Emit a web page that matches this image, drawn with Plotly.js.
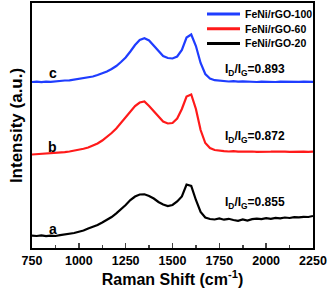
<!DOCTYPE html>
<html>
<head>
<meta charset="utf-8">
<script src="https://cdn.plot.ly/plotly-3.0.1.min.js"></script>
<style>html,body{margin:0;padding:0;background:#fff;}#chart{width:331px;height:294px;}</style>
</head>
<body>
<div id="chart"></div>
<script>
const ramanShift = [750,775,800,825,850,875,900,925,950,975,1000,1025,1050,1075,1100,1125,1150,1175,1200,1225,1250,1275,1300,1325,1350,1375,1400,1425,1450,1475,1500,1525,1550,1575,1600,1625,1650,1675,1700,1725,1750,1775,1800,1825,1850,1875,1900,1925,1950,1975,2000,2025,2050,2075,2100,2125,2150,2175,2200,2225,2250];
const feNi100 = [166.0,166.3,165.8,166.4,166.2,166.8,166.9,167.5,167.7,168.4,169.0,169.6,170.8,171.5,173.0,174.6,176.5,179.0,182.0,186.0,190.5,196.5,203.0,208.0,209.7,207.5,202.5,196.5,192.0,190.0,189.5,191.5,198.0,210.5,213.5,202.0,185.0,174.0,169.5,167.8,167.2,166.8,166.5,166.9,166.3,166.6,166.2,166.5,166.0,166.4,166.1,166.5,166.0,166.3,166.1,166.4,166.0,166.2,166.3,166.0,166.2];
const feNi60 = [93.5,93.8,94.0,94.2,94.6,95.0,95.3,95.9,96.5,97.2,98.0,99.2,100.5,102.3,104.5,107.5,111.0,115.0,119.5,125.0,131.0,137.0,142.0,145.5,146.5,142.0,136.5,131.0,126.5,124.5,125.0,129.5,139.0,151.5,153.5,139.0,118.0,105.0,100.0,98.0,97.2,96.8,96.5,96.8,96.3,96.6,96.2,96.5,96.1,96.4,96.0,96.3,96.5,96.1,96.4,96.2,96.5,96.1,96.4,96.2,96.4];
const feNi20 = [12.3,12.0,12.6,11.8,12.4,12.0,12.9,13.5,14.2,15.0,16.3,17.5,19.5,21.0,23.0,25.5,28.0,31.0,34.7,38.5,43.0,48.0,51.5,53.5,53.7,52.0,49.5,46.0,43.5,42.0,43.0,46.5,51.5,63.5,62.0,48.0,36.0,30.5,29.0,28.5,29.5,28.3,29.2,28.0,27.2,28.6,27.5,28.8,29.4,28.9,29.8,29.2,30.2,29.6,30.5,30.0,30.8,30.6,31.2,31.0,32.0];
const seriesNames = ['FeNi/rGO-100','FeNi/rGO-60','FeNi/rGO-20'];
const seriesColors = ['#1f3dff','#ff1a1a','#000000'];
const curveLetters = ['c','b','a'];
const ratios = ['0.893','0.872','0.855'];
const xTicks = [750,1000,1250,1500,1750,2000,2250];

const ys = [feNi100, feNi60, feNi20];
const traces = ys.map((y,i)=>({
  x: ramanShift, y: y, type:'scatter', mode:'lines', name: seriesNames[i],
  line:{color: seriesColors[i], width: 2.2}
}));
const F = {family:'Arial, Liberation Sans, sans-serif', color:'#000', weight:'bold'};
const letterY = [175,101,19];
const ratioY = [178,111,45];
const annotations = [];
const shapes = [];
for (let i=0;i<3;i++){
  annotations.push({x:860, y:letterY[i], xref:'x', yref:'y', text:curveLetters[i], showarrow:false, font:Object.assign({size:14},F)});
  annotations.push({x:1770, y:ratioY[i], xref:'x', yref:'y', xanchor:'left', text:'I<sub>D</sub>/I<sub>G</sub>='+ratios[i], showarrow:false, font:Object.assign({size:12},F)});
  // custom legend entries (paper coordinates)
  const ly = 1 - (11 + i*14.7)/245;
  shapes.push({type:'line', xref:'paper', yref:'paper', x0:(207-32)/281, x1:(240-32)/281, y0:ly, y1:ly, line:{color:seriesColors[i], width:3}});
  annotations.push({x:(243-32)/281, y:ly, xref:'paper', yref:'paper', xanchor:'left', yanchor:'middle', text:seriesNames[i], showarrow:false, font:Object.assign({size:10.5},F)});
}
const layout = {
  width:331, height:294,
  margin:{l:32, r:18, t:3, b:46},
  paper_bgcolor:'#fff', plot_bgcolor:'#fff',
  showlegend:false,
  xaxis:{range:[750,2250], tickvals:xTicks, ticks:'inside', ticklen:5, tickwidth:1.5, showline:true, linewidth:2, linecolor:'#000', mirror:true, showgrid:false, zeroline:false,
    tickfont:Object.assign({size:12.5},F),
    minor:{tickvals:[875,1125,1375,1625,1875,2125], ticks:'inside', ticklen:3, tickwidth:1.5, showgrid:false},
    title:{text:'Raman Shift (cm<sup>-1</sup>)', font:Object.assign({size:16},F), standoff:4}},
  yaxis:{range:[0,245], showticklabels:false, ticks:'', showline:true, linewidth:2, linecolor:'#000', mirror:true, showgrid:false, zeroline:false,
    title:{text:'Intensity (a.u.)', font:Object.assign({size:17},F), standoff:3}},
  shapes: shapes,
  annotations: annotations
};
Plotly.newPlot('chart', traces, layout, {displayModeBar:false, staticPlot:true});
</script>
</body>
</html>
